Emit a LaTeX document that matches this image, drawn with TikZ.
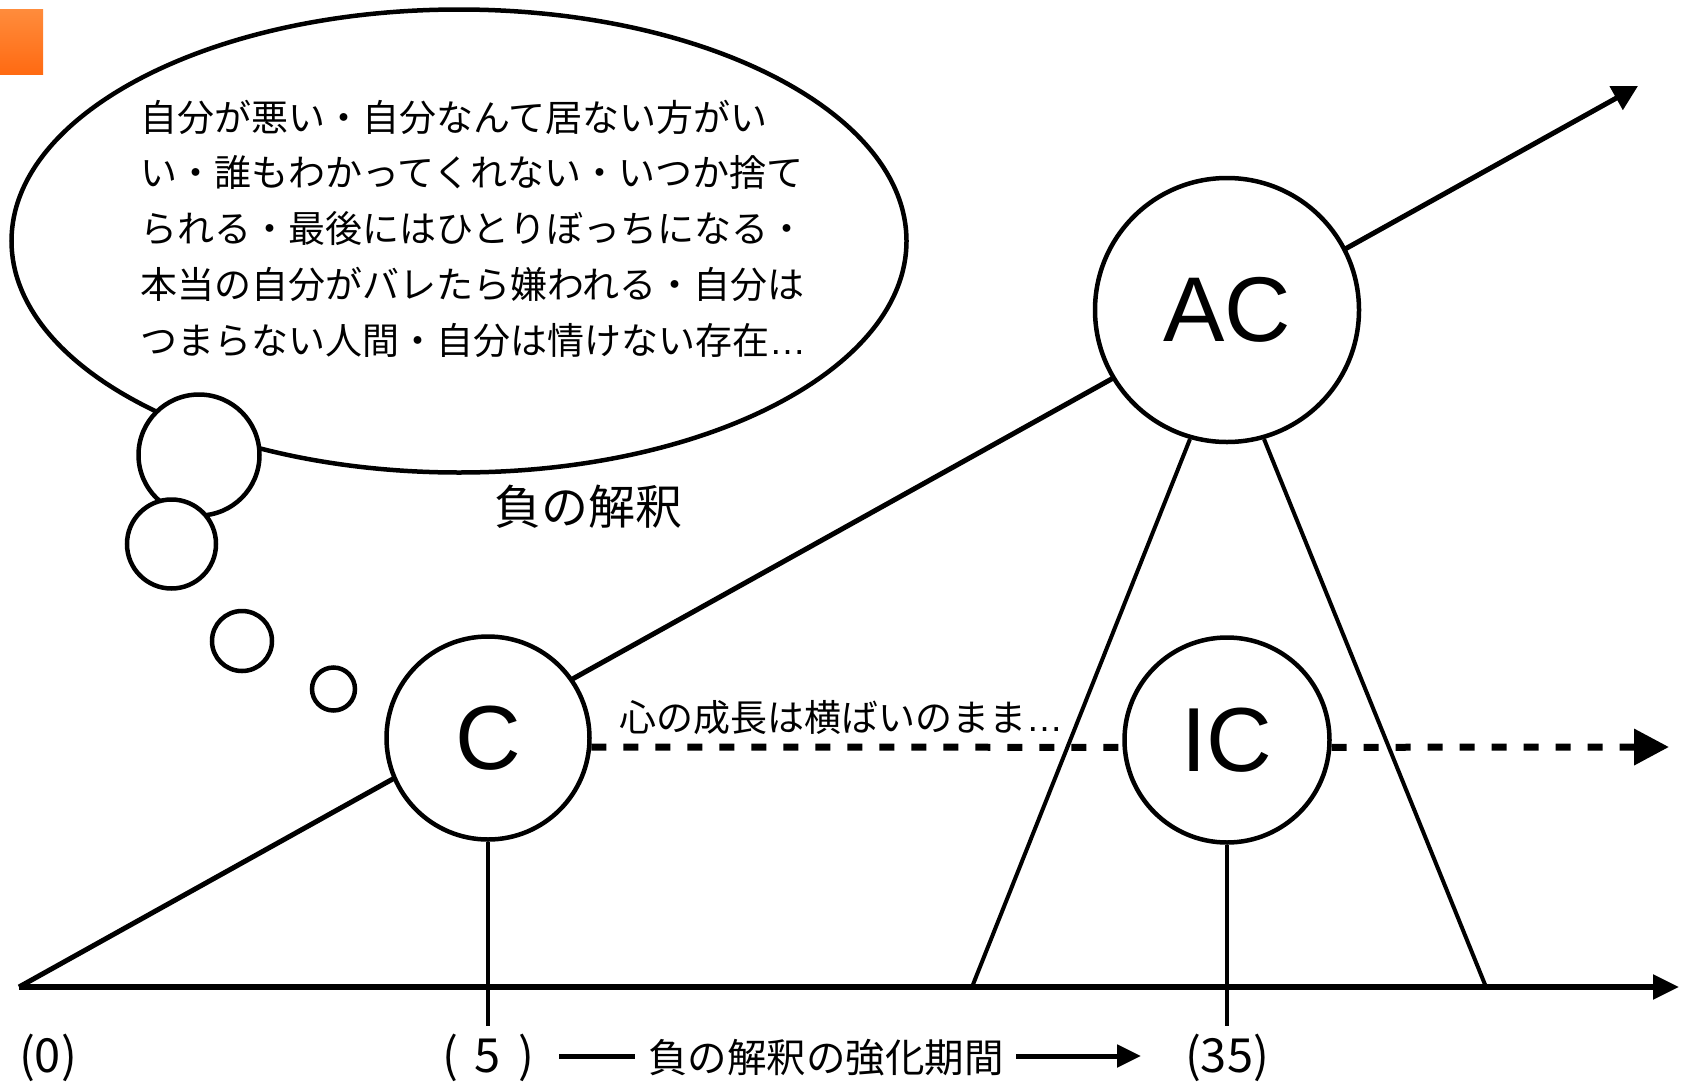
\documentclass[tikz,border=0pt]{standalone}
\usepackage{fontspec}
\setmainfont{Noto Sans CJK JP}
\newfontfamily\lat{Liberation Sans}
\usetikzlibrary{arrows.meta,shapes.geometric,backgrounds}
\definecolor{orLight}{RGB}{255,140,60}
\definecolor{orDark}{RGB}{255,106,18}
\tikzset{
  thin line/.style={line width=4pt},
  puff/.style={draw, circle, line width=4.5pt, fill=white, inner sep=0pt},
  stage/.style={draw, circle, line width=4.5pt, fill=white, inner sep=0pt, minimum size=203pt,
    font=\lat\fontsize{91}{91}\selectfont},
  bubtext/.style={anchor=base west, inner sep=0pt, font=\fontsize{37}{44}\selectfont},
  axislab/.style={inner sep=0pt, font=\fontsize{47}{50}\selectfont},
}
\begin{document}
\begin{tikzpicture}[x=1pt,y=-1pt]
\useasboundingbox (0,0) rectangle (1684,1082);
% orange marker
\shade[top color=orLight, bottom color=orDark] (0,9) rectangle (43,74);
% thought bubble
\node[draw, ellipse, line width=4.5pt, fill=white, inner sep=0pt,
      minimum width=895pt, minimum height=463pt] (bubble) at (459,241) {};
\node[puff, minimum size=121pt] (p1) at (199,455) {};
\node[puff, minimum size=89pt] (p2) at (171.5,544) {};
\node[puff, minimum size=60pt] (p3) at (242,641) {};
\node[puff, minimum size=43pt] (p4) at (333.5,689) {};
\node[bubtext] (t1) at (140,131) {自分が悪い・自分なんて居ない方がい};
\node[bubtext] (t2) at (140,186.75) {い・誰もわかってくれない・いつか捨て};
\node[bubtext] (t3) at (140,242.5) {られる・最後にはひとりぼっちになる・};
\node[bubtext] (t4) at (140,298.25) {本当の自分がバレたら嫌われる・自分は};
\node[bubtext] (t5) at (140,354) {つまらない人間・自分は情けない存在{\lat …}};
\node[inner sep=0pt, font=\fontsize{47}{50}\selectfont] (neg) at (588.5,507) {負の解釈};
% stage circles
\node[stage] (C) at (488,738) {C};
\node[stage, minimum size=264pt, font=\lat\fontsize{92}{92}\selectfont] (AC) at (1227,310) {AC};
\node[stage, minimum size=205pt] (IC) at (1227,740) {IC};
\node[anchor=west, inner sep=0pt, font=\fontsize{37}{42}\selectfont] (flat) at (619,718) {心の成長は横ばいのまま{\lat …}};
% coordinates
\coordinate (o) at (19,987);
\coordinate (xend) at (1679,987);
\coordinate (tip) at (1638,86);
\coordinate (dtip) at (1669,747);
\coordinate (tl) at (972,987);
\coordinate (tr) at (1486,987);
\coordinate (c5) at (488,1026);
\coordinate (c35) at (1227,1026);
\begin{scope}[on background layer]
\draw[line width=5.5pt, -{Triangle[length=26pt,width=24pt]}] (o) -- (xend);
\draw[line width=5pt, -{Triangle[length=25pt,width=26pt]}] (o) -- (tip);
\draw[line width=7pt, dash pattern=on 15pt off 17pt] (C.-5) -- (IC.184);
\draw[line width=7pt, dash pattern=on 15pt off 17pt, -{Triangle[length=35pt,width=35pt]}] (IC.-4) -- (dtip);
\draw[thin line] (AC.254) -- (tl);
\draw[thin line] (AC.286) -- (tr);
\draw[thin line] (C.south) -- (c5);
\draw[thin line] (IC.south) -- (c35);
\end{scope}
% bottom labels
\node[axislab] (l0) at (48,1058) {(0)};
\node[axislab] (l5) at (488,1058) {(\hspace{17pt}5\hspace{17pt})};
\node[axislab] (l35) at (1227,1058) {(35)};
\node[inner sep=0pt, font=\fontsize{39.5}{44}\selectfont] (period) at (826,1058) {負の解釈の強化期間};
\coordinate (b1) at (559,1056);
\coordinate (b2) at (635,1056);
\coordinate (b3) at (1016,1056);
\coordinate (b4) at (1141,1056);
\draw[line width=5pt] (b1) -- (b2);
\draw[line width=5pt, -{Triangle[length=24pt,width=22pt]}] (b3) -- (b4);
\end{tikzpicture}
\end{document}
